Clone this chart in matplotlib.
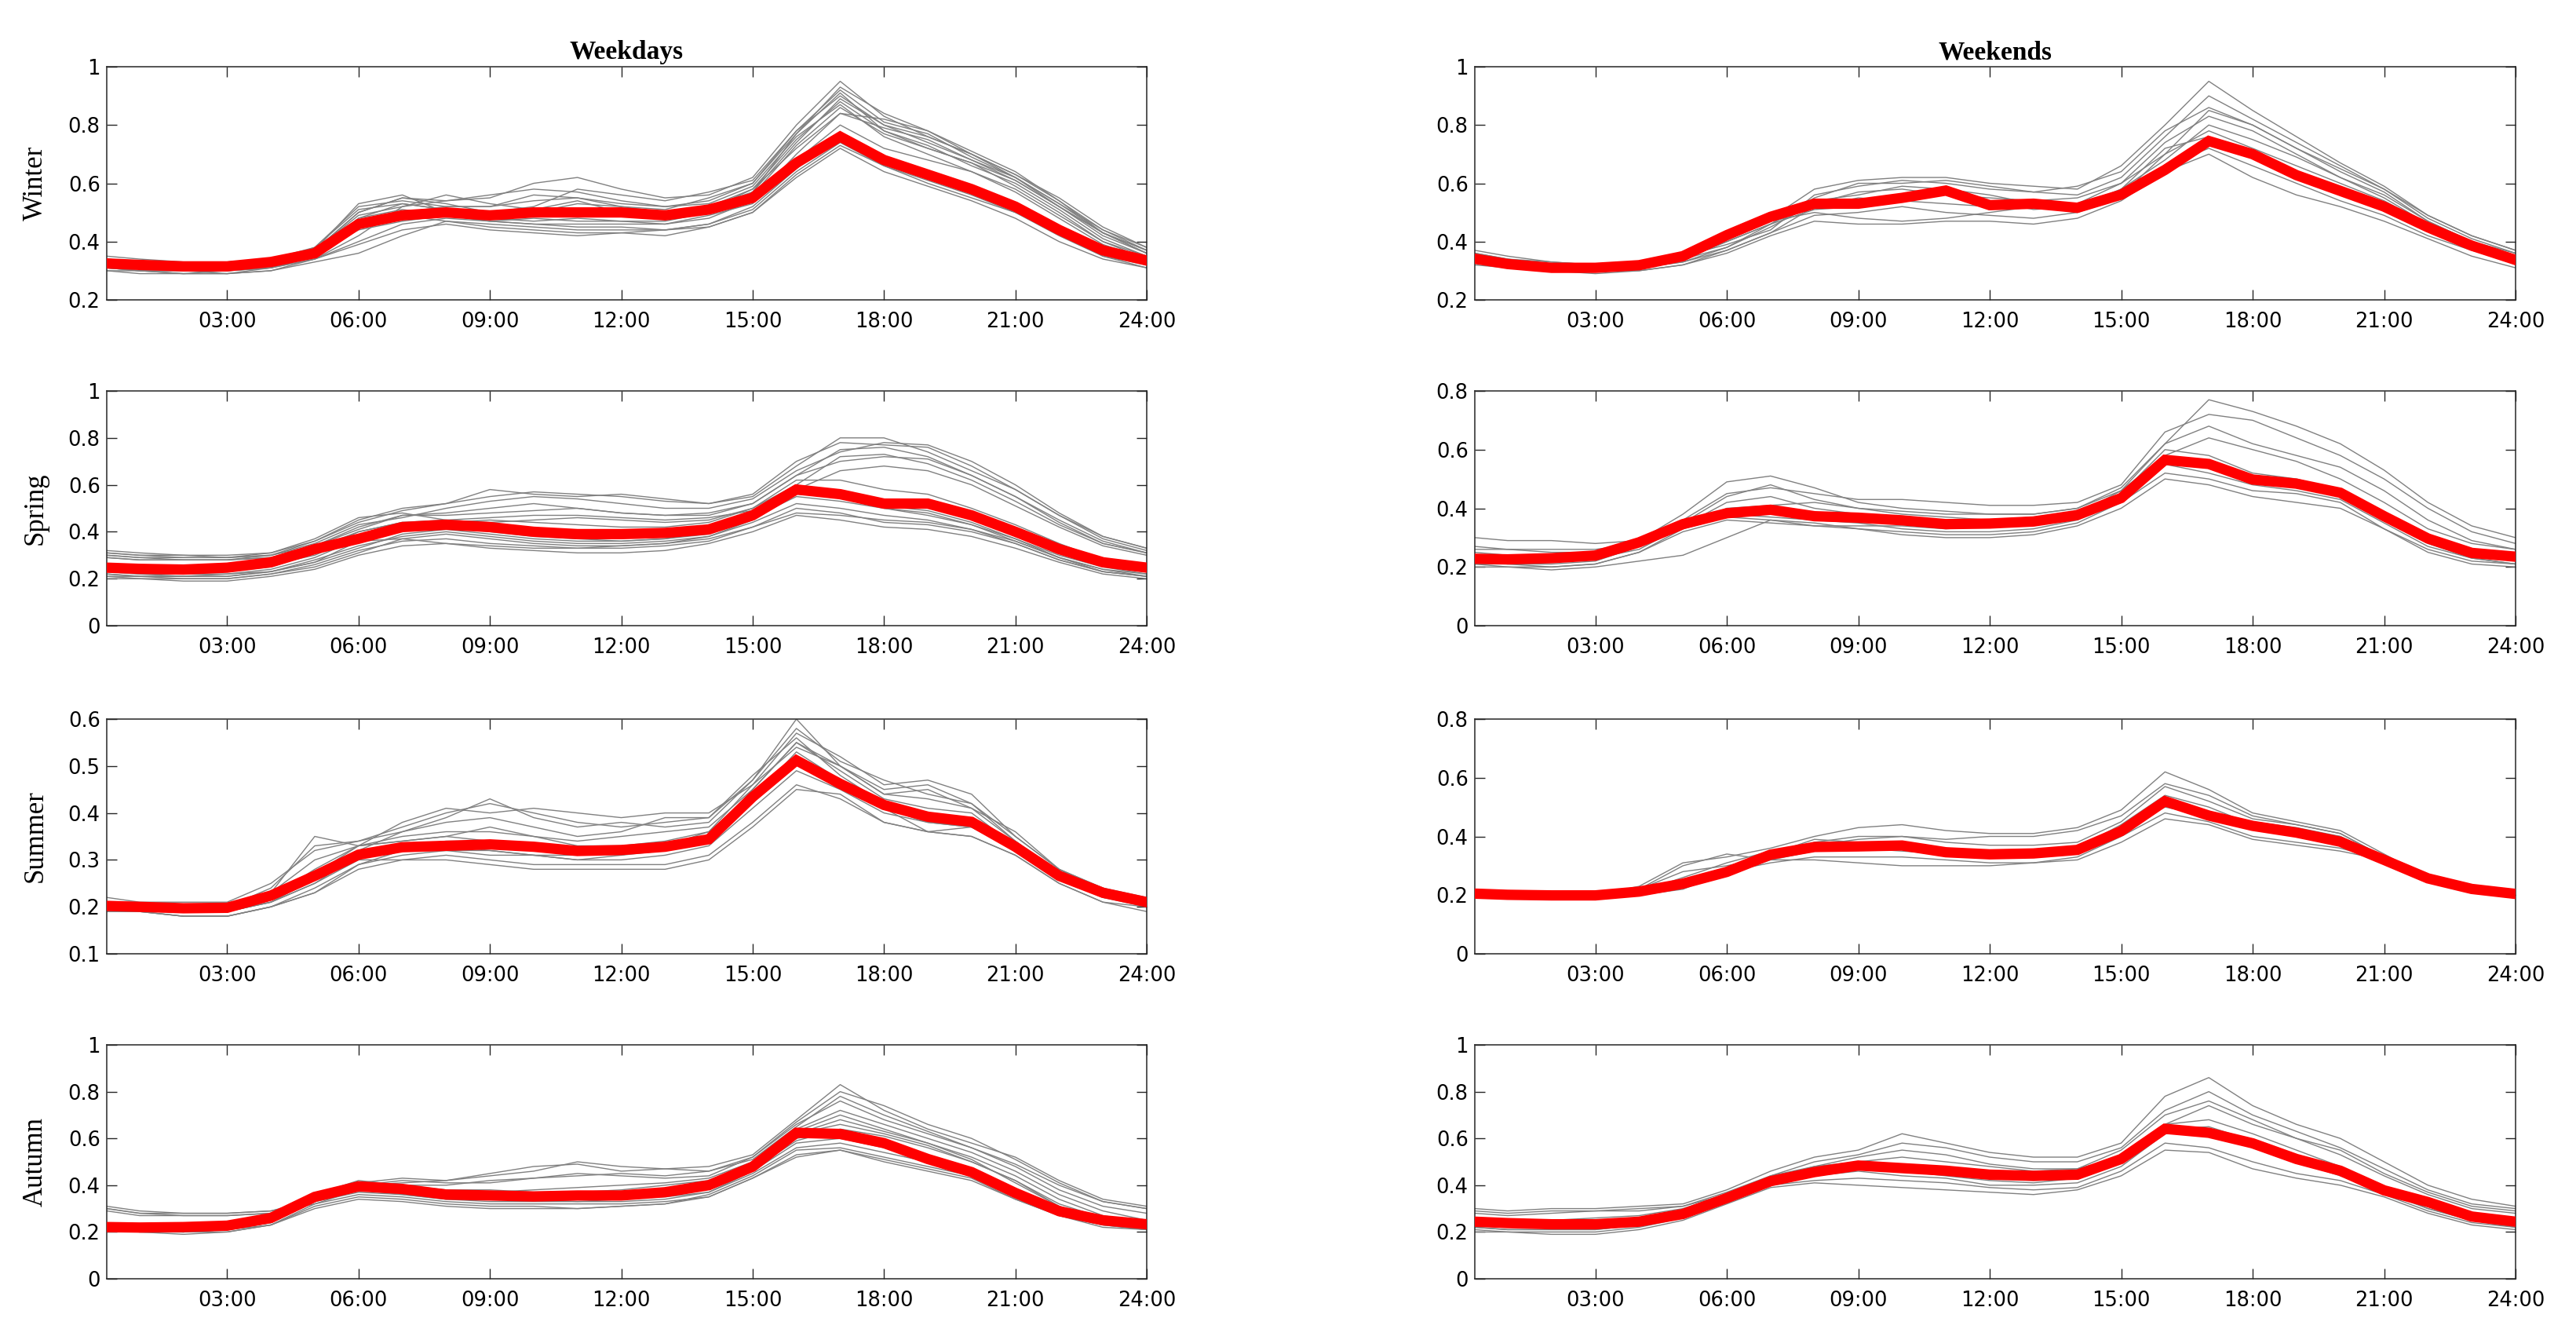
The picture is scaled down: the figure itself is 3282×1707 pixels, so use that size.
import matplotlib
matplotlib.use("Agg")
import matplotlib.pyplot as plt
import numpy as np

# ---------------- data ----------------
hours = [0.25] + list(range(1, 25))
hour_ticks = [3, 6, 9, 12, 15, 18, 21, 24]
hour_labels = ["03:00", "06:00", "09:00", "12:00", "15:00", "18:00", "21:00", "24:00"]
seasons = ["Winter", "Spring", "Summer", "Autumn"]
columns = ["Weekdays", "Weekends"]

# mean profiles (red)
winter_wd_mean = [0.325,0.32,0.315,0.315,0.33,0.36,0.46,0.49,0.50,0.49,0.50,0.50,0.50,0.49,0.51,0.55,0.67,0.76,0.68,0.63,0.58,0.52,0.44,0.37,0.335]
spring_wd_mean = [0.247,0.242,0.239,0.247,0.27,0.326,0.37,0.42,0.43,0.42,0.40,0.39,0.39,0.395,0.41,0.47,0.58,0.56,0.52,0.52,0.47,0.40,0.326,0.27,0.247]
summer_wd_mean = [0.202,0.200,0.197,0.198,0.224,0.266,0.311,0.327,0.330,0.333,0.328,0.319,0.321,0.328,0.344,0.434,0.512,0.462,0.417,0.392,0.381,0.328,0.266,0.230,0.210]
autumn_wd_mean = [0.221,0.219,0.221,0.227,0.26,0.35,0.395,0.384,0.36,0.356,0.352,0.356,0.356,0.37,0.40,0.479,0.624,0.619,0.58,0.512,0.456,0.367,0.289,0.25,0.233]
winter_we_mean = [0.341,0.323,0.31,0.31,0.319,0.35,0.422,0.485,0.53,0.53,0.55,0.575,0.525,0.53,0.516,0.561,0.646,0.745,0.70,0.628,0.574,0.52,0.449,0.386,0.337]
spring_we_mean = [0.228,0.226,0.23,0.239,0.284,0.346,0.383,0.395,0.373,0.368,0.359,0.346,0.348,0.355,0.377,0.435,0.565,0.551,0.498,0.484,0.453,0.373,0.297,0.248,0.235]
summer_we_mean = [0.205,0.201,0.199,0.199,0.212,0.239,0.279,0.338,0.364,0.366,0.369,0.346,0.339,0.342,0.354,0.418,0.52,0.471,0.436,0.413,0.382,0.32,0.257,0.221,0.204]
autumn_we_mean = [0.244,0.238,0.233,0.233,0.244,0.277,0.345,0.417,0.456,0.484,0.473,0.462,0.445,0.44,0.445,0.512,0.641,0.624,0.579,0.512,0.462,0.378,0.328,0.266,0.244]

# individual day profiles (grey)
winter_wd_days = [
    [0.34,0.33,0.32,0.32,0.33,0.37,0.50,0.55,0.54,0.55,0.60,0.62,0.58,0.55,0.56,0.62,0.80,0.95,0.83,0.76,0.70,0.63,0.54,0.44,0.37],
    [0.33,0.32,0.31,0.31,0.33,0.38,0.52,0.54,0.52,0.52,0.54,0.55,0.53,0.52,0.54,0.60,0.78,0.90,0.80,0.74,0.68,0.61,0.52,0.42,0.36],
    [0.32,0.31,0.30,0.31,0.32,0.36,0.48,0.53,0.51,0.50,0.50,0.51,0.50,0.49,0.51,0.58,0.75,0.88,0.78,0.73,0.66,0.60,0.51,0.41,0.35],
    [0.31,0.30,0.30,0.30,0.31,0.35,0.45,0.50,0.50,0.48,0.47,0.48,0.47,0.47,0.50,0.56,0.73,0.86,0.77,0.72,0.67,0.59,0.50,0.40,0.35],
    [0.33,0.32,0.31,0.31,0.33,0.36,0.44,0.47,0.49,0.47,0.46,0.46,0.46,0.46,0.48,0.54,0.70,0.84,0.79,0.75,0.68,0.62,0.53,0.43,0.36],
    [0.30,0.29,0.29,0.29,0.30,0.33,0.36,0.42,0.47,0.46,0.45,0.44,0.44,0.44,0.46,0.52,0.65,0.76,0.68,0.63,0.58,0.51,0.43,0.36,0.32],
    [0.32,0.31,0.30,0.30,0.31,0.34,0.40,0.46,0.48,0.47,0.46,0.45,0.45,0.44,0.46,0.51,0.64,0.74,0.66,0.60,0.55,0.50,0.42,0.35,0.32],
    [0.35,0.34,0.33,0.33,0.34,0.37,0.50,0.55,0.53,0.50,0.52,0.58,0.56,0.54,0.57,0.61,0.78,0.92,0.81,0.77,0.69,0.62,0.53,0.44,0.38],
    [0.31,0.30,0.29,0.29,0.31,0.35,0.48,0.51,0.49,0.47,0.48,0.47,0.47,0.46,0.49,0.53,0.68,0.80,0.72,0.68,0.64,0.58,0.49,0.40,0.34],
    [0.33,0.32,0.32,0.32,0.33,0.37,0.49,0.52,0.54,0.56,0.58,0.57,0.54,0.52,0.53,0.59,0.76,0.87,0.76,0.70,0.64,0.57,0.48,0.39,0.34],
    [0.32,0.31,0.31,0.30,0.32,0.36,0.46,0.49,0.47,0.45,0.44,0.43,0.43,0.44,0.45,0.50,0.62,0.72,0.64,0.59,0.54,0.48,0.40,0.34,0.31],
    [0.34,0.33,0.32,0.33,0.34,0.38,0.51,0.53,0.51,0.49,0.49,0.50,0.49,0.48,0.50,0.57,0.74,0.89,0.80,0.76,0.70,0.63,0.55,0.45,0.38],
    [0.30,0.30,0.29,0.30,0.31,0.34,0.42,0.52,0.56,0.53,0.51,0.54,0.50,0.48,0.52,0.58,0.72,0.84,0.82,0.78,0.71,0.64,0.54,0.43,0.37],
    [0.33,0.33,0.31,0.30,0.32,0.37,0.53,0.56,0.50,0.48,0.50,0.53,0.52,0.50,0.52,0.57,0.77,0.91,0.78,0.72,0.67,0.61,0.52,0.43,0.36],
    [0.31,0.30,0.30,0.29,0.30,0.34,0.39,0.44,0.46,0.44,0.43,0.42,0.43,0.42,0.45,0.50,0.63,0.73,0.66,0.61,0.56,0.50,0.43,0.35,0.31],
    [0.34,0.32,0.31,0.31,0.32,0.36,0.47,0.50,0.52,0.52,0.56,0.55,0.52,0.51,0.55,0.60,0.77,0.93,0.84,0.78,0.70,0.62,0.52,0.43,0.37],
]
spring_wd_days = [
    [0.31,0.30,0.29,0.29,0.30,0.36,0.45,0.50,0.52,0.55,0.57,0.56,0.55,0.53,0.52,0.55,0.68,0.80,0.80,0.74,0.66,0.58,0.47,0.38,0.33],
    [0.30,0.29,0.28,0.28,0.30,0.34,0.42,0.47,0.48,0.50,0.52,0.50,0.48,0.47,0.48,0.52,0.64,0.75,0.76,0.72,0.64,0.55,0.45,0.36,0.31],
    [0.32,0.31,0.30,0.30,0.31,0.37,0.46,0.48,0.45,0.44,0.45,0.46,0.45,0.44,0.45,0.50,0.60,0.72,0.73,0.69,0.62,0.53,0.43,0.35,0.31],
    [0.29,0.28,0.28,0.28,0.29,0.33,0.40,0.44,0.45,0.46,0.47,0.47,0.46,0.45,0.46,0.49,0.58,0.66,0.68,0.66,0.60,0.51,0.42,0.34,0.30],
    [0.22,0.21,0.21,0.21,0.23,0.28,0.34,0.38,0.40,0.38,0.36,0.35,0.35,0.36,0.38,0.44,0.52,0.50,0.47,0.45,0.41,0.36,0.29,0.24,0.21],
    [0.21,0.20,0.20,0.20,0.22,0.26,0.32,0.36,0.37,0.35,0.34,0.33,0.33,0.34,0.36,0.42,0.50,0.48,0.44,0.43,0.40,0.35,0.28,0.23,0.21],
    [0.23,0.22,0.22,0.22,0.24,0.29,0.37,0.41,0.42,0.40,0.38,0.37,0.36,0.37,0.39,0.46,0.55,0.53,0.50,0.48,0.43,0.37,0.30,0.25,0.22],
    [0.20,0.20,0.19,0.19,0.21,0.24,0.30,0.34,0.35,0.33,0.32,0.31,0.31,0.32,0.35,0.40,0.47,0.45,0.42,0.41,0.38,0.33,0.27,0.22,0.20],
    [0.24,0.23,0.23,0.23,0.25,0.31,0.40,0.44,0.43,0.42,0.41,0.40,0.39,0.40,0.42,0.47,0.57,0.55,0.53,0.51,0.46,0.39,0.31,0.26,0.23],
    [0.30,0.29,0.29,0.29,0.30,0.35,0.43,0.46,0.50,0.53,0.55,0.54,0.52,0.50,0.50,0.54,0.66,0.74,0.78,0.77,0.70,0.60,0.48,0.38,0.33],
    [0.22,0.21,0.21,0.21,0.23,0.27,0.33,0.39,0.41,0.39,0.37,0.36,0.36,0.37,0.40,0.45,0.58,0.56,0.50,0.47,0.43,0.36,0.29,0.24,0.22],
    [0.25,0.24,0.24,0.24,0.26,0.30,0.38,0.42,0.44,0.45,0.44,0.43,0.42,0.42,0.44,0.50,0.62,0.62,0.58,0.56,0.50,0.43,0.35,0.28,0.25],
    [0.31,0.30,0.30,0.29,0.31,0.36,0.44,0.49,0.52,0.58,0.56,0.55,0.56,0.54,0.52,0.56,0.70,0.78,0.77,0.76,0.68,0.58,0.47,0.37,0.32],
    [0.23,0.22,0.21,0.22,0.23,0.27,0.36,0.37,0.35,0.34,0.33,0.33,0.34,0.35,0.37,0.42,0.48,0.47,0.45,0.44,0.41,0.35,0.28,0.23,0.21],
    [0.21,0.21,0.20,0.20,0.22,0.25,0.31,0.37,0.39,0.37,0.35,0.34,0.34,0.35,0.38,0.45,0.56,0.55,0.51,0.49,0.44,0.37,0.29,0.23,0.21],
    [0.29,0.28,0.28,0.28,0.29,0.34,0.41,0.47,0.47,0.48,0.49,0.50,0.48,0.47,0.47,0.52,0.64,0.70,0.72,0.71,0.64,0.55,0.44,0.35,0.31],
]
summer_wd_days = [
    [0.21,0.20,0.20,0.20,0.24,0.33,0.34,0.37,0.40,0.42,0.40,0.38,0.37,0.38,0.39,0.47,0.60,0.50,0.45,0.46,0.42,0.34,0.27,0.23,0.22],
    [0.20,0.19,0.19,0.19,0.22,0.28,0.33,0.38,0.41,0.40,0.41,0.40,0.39,0.40,0.40,0.46,0.57,0.52,0.46,0.47,0.44,0.35,0.28,0.24,0.21],
    [0.20,0.20,0.19,0.19,0.23,0.30,0.33,0.35,0.36,0.36,0.35,0.34,0.35,0.36,0.37,0.45,0.55,0.49,0.43,0.41,0.40,0.33,0.27,0.23,0.21],
    [0.19,0.19,0.18,0.18,0.20,0.24,0.29,0.32,0.32,0.31,0.31,0.30,0.30,0.31,0.33,0.41,0.49,0.45,0.40,0.38,0.37,0.32,0.26,0.22,0.20],
    [0.21,0.20,0.20,0.20,0.22,0.26,0.31,0.33,0.33,0.32,0.31,0.30,0.31,0.32,0.34,0.43,0.53,0.47,0.42,0.39,0.39,0.33,0.26,0.23,0.21],
    [0.20,0.20,0.19,0.19,0.21,0.25,0.30,0.30,0.31,0.30,0.29,0.29,0.29,0.29,0.31,0.38,0.46,0.43,0.38,0.36,0.35,0.31,0.25,0.21,0.20],
    [0.22,0.21,0.21,0.21,0.25,0.32,0.34,0.36,0.38,0.39,0.37,0.35,0.36,0.39,0.39,0.48,0.56,0.48,0.42,0.40,0.38,0.32,0.26,0.22,0.21],
    [0.19,0.19,0.18,0.18,0.20,0.23,0.29,0.31,0.32,0.32,0.31,0.31,0.32,0.32,0.35,0.44,0.51,0.47,0.41,0.36,0.37,0.32,0.27,0.23,0.20],
    [0.21,0.20,0.20,0.20,0.22,0.27,0.33,0.34,0.35,0.37,0.35,0.33,0.33,0.34,0.36,0.46,0.54,0.50,0.44,0.43,0.41,0.36,0.28,0.24,0.22],
    [0.20,0.19,0.19,0.19,0.21,0.25,0.31,0.33,0.34,0.34,0.33,0.32,0.31,0.33,0.36,0.44,0.52,0.46,0.41,0.38,0.37,0.33,0.26,0.22,0.21],
    [0.21,0.20,0.20,0.19,0.23,0.35,0.33,0.34,0.35,0.34,0.33,0.32,0.32,0.33,0.35,0.45,0.55,0.50,0.44,0.45,0.41,0.34,0.27,0.23,0.21],
    [0.20,0.20,0.19,0.19,0.21,0.26,0.32,0.36,0.39,0.43,0.39,0.37,0.38,0.37,0.38,0.47,0.58,0.51,0.47,0.44,0.42,0.35,0.28,0.23,0.21],
    [0.19,0.19,0.18,0.18,0.20,0.23,0.28,0.30,0.30,0.29,0.28,0.28,0.28,0.28,0.30,0.37,0.45,0.44,0.38,0.36,0.35,0.31,0.25,0.21,0.19],
]
autumn_wd_days = [
    [0.31,0.29,0.28,0.28,0.29,0.34,0.41,0.43,0.42,0.44,0.46,0.50,0.48,0.47,0.48,0.53,0.68,0.83,0.72,0.64,0.58,0.52,0.42,0.34,0.31],
    [0.30,0.28,0.27,0.27,0.28,0.33,0.40,0.42,0.41,0.41,0.43,0.44,0.45,0.44,0.46,0.51,0.65,0.78,0.70,0.63,0.56,0.49,0.40,0.33,0.30],
    [0.22,0.21,0.21,0.22,0.25,0.35,0.40,0.38,0.37,0.37,0.38,0.39,0.40,0.41,0.43,0.50,0.64,0.72,0.66,0.60,0.54,0.46,0.36,0.29,0.25],
    [0.21,0.20,0.20,0.21,0.24,0.33,0.37,0.36,0.34,0.33,0.33,0.33,0.33,0.34,0.37,0.46,0.58,0.60,0.56,0.52,0.47,0.38,0.29,0.24,0.22],
    [0.20,0.20,0.19,0.20,0.23,0.31,0.35,0.34,0.32,0.31,0.31,0.30,0.31,0.32,0.36,0.44,0.55,0.56,0.52,0.48,0.44,0.35,0.27,0.23,0.21],
    [0.23,0.22,0.22,0.23,0.26,0.36,0.42,0.40,0.38,0.38,0.37,0.37,0.38,0.40,0.42,0.49,0.62,0.66,0.62,0.57,0.50,0.42,0.32,0.26,0.23],
    [0.21,0.21,0.20,0.21,0.25,0.34,0.38,0.37,0.35,0.35,0.34,0.34,0.35,0.36,0.39,0.47,0.60,0.63,0.58,0.53,0.47,0.38,0.30,0.25,0.22],
    [0.29,0.27,0.27,0.27,0.28,0.32,0.38,0.40,0.40,0.42,0.43,0.45,0.44,0.43,0.44,0.52,0.66,0.76,0.68,0.62,0.56,0.48,0.38,0.31,0.28],
    [0.22,0.21,0.21,0.21,0.24,0.33,0.38,0.36,0.34,0.34,0.34,0.33,0.34,0.35,0.37,0.45,0.56,0.58,0.54,0.50,0.45,0.36,0.28,0.24,0.22],
    [0.23,0.22,0.22,0.23,0.26,0.35,0.41,0.40,0.37,0.36,0.35,0.36,0.36,0.38,0.40,0.48,0.63,0.70,0.64,0.58,0.52,0.44,0.34,0.27,0.24],
    [0.21,0.20,0.20,0.20,0.23,0.32,0.36,0.35,0.33,0.32,0.32,0.32,0.32,0.33,0.35,0.43,0.53,0.55,0.51,0.47,0.43,0.34,0.27,0.23,0.21],
    [0.22,0.21,0.21,0.22,0.25,0.34,0.39,0.38,0.36,0.36,0.35,0.36,0.37,0.38,0.41,0.49,0.62,0.68,0.63,0.58,0.51,0.41,0.31,0.25,0.23],
    [0.30,0.28,0.28,0.28,0.29,0.33,0.40,0.41,0.42,0.45,0.48,0.49,0.46,0.47,0.46,0.52,0.67,0.80,0.74,0.66,0.60,0.51,0.41,0.33,0.30],
    [0.21,0.20,0.20,0.21,0.24,0.34,0.40,0.38,0.36,0.37,0.36,0.35,0.36,0.37,0.40,0.47,0.59,0.64,0.61,0.56,0.50,0.42,0.31,0.25,0.22],
    [0.22,0.21,0.20,0.21,0.23,0.30,0.34,0.33,0.31,0.30,0.30,0.30,0.31,0.32,0.35,0.43,0.52,0.55,0.50,0.46,0.42,0.34,0.27,0.22,0.21],
]
winter_we_days = [
    [0.36,0.34,0.33,0.32,0.33,0.36,0.42,0.48,0.58,0.61,0.62,0.62,0.60,0.59,0.58,0.66,0.80,0.95,0.85,0.76,0.67,0.59,0.49,0.42,0.37],
    [0.34,0.33,0.31,0.31,0.32,0.34,0.40,0.46,0.55,0.60,0.60,0.61,0.59,0.57,0.56,0.62,0.76,0.90,0.82,0.74,0.66,0.58,0.48,0.41,0.36],
    [0.33,0.32,0.30,0.30,0.31,0.33,0.38,0.45,0.53,0.57,0.58,0.56,0.55,0.54,0.55,0.60,0.70,0.85,0.80,0.72,0.64,0.57,0.47,0.40,0.35],
    [0.35,0.33,0.32,0.31,0.32,0.35,0.41,0.47,0.50,0.48,0.47,0.48,0.50,0.52,0.50,0.55,0.66,0.72,0.66,0.60,0.54,0.49,0.42,0.37,0.33],
    [0.32,0.31,0.30,0.29,0.30,0.32,0.36,0.42,0.47,0.46,0.46,0.47,0.47,0.46,0.48,0.54,0.64,0.70,0.62,0.56,0.52,0.47,0.41,0.35,0.31],
    [0.37,0.35,0.33,0.32,0.33,0.35,0.39,0.44,0.56,0.59,0.61,0.60,0.58,0.57,0.59,0.64,0.78,0.86,0.80,0.72,0.65,0.58,0.49,0.42,0.37],
    [0.33,0.31,0.30,0.30,0.30,0.32,0.37,0.43,0.52,0.55,0.54,0.53,0.52,0.52,0.51,0.58,0.68,0.80,0.75,0.69,0.62,0.55,0.46,0.39,0.34],
    [0.34,0.32,0.31,0.31,0.31,0.34,0.40,0.46,0.51,0.52,0.55,0.57,0.54,0.51,0.52,0.58,0.72,0.76,0.70,0.64,0.58,0.52,0.45,0.39,0.34],
    [0.33,0.32,0.31,0.30,0.31,0.33,0.37,0.43,0.49,0.50,0.52,0.50,0.49,0.48,0.50,0.56,0.70,0.78,0.72,0.66,0.60,0.54,0.46,0.39,0.34],
    [0.36,0.34,0.32,0.31,0.32,0.34,0.38,0.46,0.54,0.56,0.59,0.58,0.56,0.53,0.53,0.60,0.74,0.83,0.78,0.70,0.62,0.56,0.47,0.40,0.36],
]
spring_we_days = [
    [0.30,0.29,0.29,0.28,0.29,0.38,0.49,0.51,0.47,0.42,0.40,0.39,0.38,0.38,0.40,0.47,0.62,0.77,0.73,0.68,0.62,0.53,0.42,0.34,0.30],
    [0.27,0.26,0.26,0.26,0.28,0.36,0.45,0.47,0.45,0.43,0.43,0.42,0.41,0.41,0.42,0.48,0.66,0.72,0.70,0.64,0.58,0.50,0.40,0.32,0.28],
    [0.21,0.20,0.20,0.21,0.25,0.32,0.36,0.35,0.34,0.33,0.32,0.31,0.31,0.32,0.35,0.42,0.52,0.50,0.46,0.45,0.42,0.33,0.26,0.22,0.21],
    [0.22,0.21,0.21,0.22,0.27,0.35,0.38,0.37,0.36,0.35,0.33,0.32,0.32,0.33,0.36,0.44,0.55,0.52,0.48,0.46,0.43,0.35,0.27,0.23,0.21],
    [0.26,0.26,0.25,0.25,0.27,0.34,0.40,0.41,0.42,0.40,0.39,0.38,0.38,0.38,0.40,0.46,0.58,0.64,0.60,0.56,0.50,0.42,0.33,0.28,0.26],
    [0.20,0.20,0.19,0.20,0.22,0.24,0.30,0.36,0.35,0.33,0.31,0.30,0.30,0.31,0.34,0.40,0.50,0.48,0.44,0.42,0.40,0.33,0.25,0.21,0.20],
    [0.21,0.21,0.20,0.21,0.25,0.33,0.37,0.36,0.34,0.34,0.34,0.33,0.34,0.35,0.37,0.44,0.56,0.54,0.49,0.47,0.44,0.36,0.28,0.23,0.21],
    [0.24,0.23,0.23,0.23,0.26,0.34,0.42,0.44,0.40,0.38,0.37,0.36,0.35,0.36,0.39,0.45,0.60,0.58,0.52,0.50,0.46,0.38,0.30,0.25,0.23],
    [0.25,0.24,0.24,0.24,0.27,0.35,0.44,0.48,0.43,0.40,0.38,0.37,0.36,0.37,0.38,0.46,0.62,0.68,0.62,0.58,0.54,0.46,0.36,0.29,0.26],
]
summer_we_days = [
    [0.21,0.20,0.20,0.20,0.23,0.31,0.33,0.36,0.40,0.43,0.44,0.42,0.41,0.41,0.43,0.49,0.62,0.56,0.48,0.45,0.42,0.34,0.26,0.22,0.20],
    [0.20,0.20,0.19,0.19,0.22,0.28,0.30,0.33,0.38,0.40,0.40,0.39,0.40,0.40,0.42,0.47,0.58,0.54,0.47,0.44,0.41,0.33,0.26,0.22,0.20],
    [0.20,0.19,0.19,0.19,0.21,0.24,0.28,0.31,0.33,0.33,0.33,0.32,0.31,0.31,0.33,0.40,0.48,0.45,0.40,0.38,0.36,0.32,0.25,0.22,0.20],
    [0.21,0.20,0.20,0.20,0.22,0.30,0.34,0.32,0.32,0.31,0.30,0.30,0.30,0.31,0.32,0.38,0.46,0.44,0.39,0.37,0.35,0.32,0.26,0.22,0.20],
    [0.20,0.20,0.19,0.19,0.21,0.25,0.29,0.33,0.36,0.37,0.38,0.36,0.34,0.35,0.36,0.44,0.54,0.50,0.44,0.42,0.40,0.33,0.26,0.22,0.20],
    [0.21,0.20,0.20,0.20,0.21,0.23,0.27,0.32,0.35,0.36,0.35,0.34,0.33,0.33,0.35,0.42,0.52,0.48,0.43,0.40,0.38,0.33,0.25,0.22,0.20],
    [0.20,0.19,0.19,0.19,0.20,0.22,0.28,0.34,0.39,0.38,0.37,0.36,0.35,0.34,0.35,0.43,0.50,0.47,0.45,0.43,0.40,0.32,0.25,0.21,0.20],
    [0.20,0.20,0.19,0.20,0.21,0.26,0.31,0.35,0.37,0.39,0.40,0.38,0.37,0.37,0.38,0.45,0.57,0.52,0.46,0.44,0.41,0.33,0.25,0.22,0.20],
]
autumn_we_days = [
    [0.30,0.29,0.30,0.30,0.31,0.32,0.38,0.46,0.52,0.55,0.62,0.58,0.54,0.52,0.52,0.58,0.78,0.86,0.74,0.66,0.60,0.50,0.40,0.34,0.31],
    [0.28,0.27,0.28,0.29,0.29,0.31,0.36,0.44,0.50,0.53,0.58,0.56,0.52,0.50,0.50,0.56,0.72,0.80,0.70,0.63,0.56,0.47,0.38,0.32,0.30],
    [0.22,0.21,0.21,0.21,0.23,0.27,0.34,0.42,0.46,0.48,0.47,0.45,0.43,0.42,0.43,0.52,0.66,0.68,0.62,0.55,0.48,0.39,0.31,0.25,0.23],
    [0.21,0.20,0.20,0.20,0.22,0.26,0.33,0.40,0.42,0.43,0.42,0.41,0.39,0.38,0.39,0.46,0.58,0.56,0.50,0.45,0.42,0.36,0.29,0.24,0.22],
    [0.23,0.22,0.22,0.22,0.24,0.28,0.35,0.41,0.44,0.46,0.44,0.43,0.40,0.40,0.41,0.48,0.62,0.62,0.56,0.50,0.44,0.37,0.30,0.25,0.23],
    [0.20,0.20,0.19,0.19,0.21,0.25,0.32,0.39,0.41,0.40,0.39,0.38,0.37,0.36,0.38,0.44,0.55,0.54,0.47,0.43,0.40,0.35,0.28,0.23,0.21],
    [0.26,0.25,0.25,0.26,0.27,0.30,0.36,0.43,0.48,0.52,0.55,0.53,0.49,0.47,0.47,0.55,0.70,0.76,0.68,0.60,0.53,0.44,0.36,0.30,0.28],
    [0.22,0.21,0.21,0.21,0.23,0.27,0.34,0.41,0.45,0.47,0.46,0.44,0.42,0.41,0.43,0.50,0.64,0.65,0.59,0.52,0.46,0.38,0.30,0.25,0.22],
    [0.29,0.28,0.29,0.29,0.30,0.31,0.37,0.44,0.48,0.50,0.52,0.50,0.48,0.46,0.47,0.52,0.66,0.74,0.66,0.60,0.55,0.45,0.37,0.31,0.29],
]

weekday_means = [winter_wd_mean, spring_wd_mean, summer_wd_mean, autumn_wd_mean]
weekend_means = [winter_we_mean, spring_we_mean, summer_we_mean, autumn_we_mean]
weekday_days = [winter_wd_days, spring_wd_days, summer_wd_days, autumn_wd_days]
weekend_days = [winter_we_days, spring_we_days, summer_we_days, autumn_we_days]

weekday_ylims = [(0.2, 1.0), (0.0, 1.0), (0.1, 0.6), (0.0, 1.0)]
weekend_ylims = [(0.2, 1.0), (0.0, 0.8), (0.0, 0.8), (0.0, 1.0)]
weekday_ysteps = [0.2, 0.2, 0.1, 0.2]
weekend_ysteps = [0.2, 0.2, 0.2, 0.2]

# ---------------- layout ----------------
W, H = 3282, 1707
fig = plt.figure(figsize=(W / 100, H / 100), dpi=100)

col_x = [(136, 1461), (1879, 3205)]
row_y = [(85, 382), (498, 797), (916, 1215), (1331, 1629)]

tick_font = dict(family="DejaVu Sans", size=18.5)
spine_color = "#262626"

for c in range(2):
    means = weekday_means if c == 0 else weekend_means
    days = weekday_days if c == 0 else weekend_days
    ylims = weekday_ylims if c == 0 else weekend_ylims
    ysteps = weekday_ysteps if c == 0 else weekend_ysteps
    for r in range(4):
        x0, x1 = col_x[c]
        yt, yb = row_y[r]
        ax = fig.add_axes([x0 / W, 1 - yb / H, (x1 - x0) / W, (yb - yt) / H])
        for d in days[r]:
            ax.plot(hours, d, color="#808080", lw=1.0, zorder=2)
        ax.plot(hours, means[r], color="#ff0000", lw=9.5, zorder=3,
                solid_joinstyle="miter")
        ax.set_xlim(0.25, 24)
        lo, hi = ylims[r]
        ax.set_ylim(lo, hi)
        yt_vals = np.round(np.arange(lo, hi + 1e-9, ysteps[r]), 2)
        ax.set_yticks(yt_vals)
        ax.set_yticklabels(["%g" % v for v in yt_vals], **tick_font)
        ax.set_xticks(hour_ticks)
        ax.set_xticklabels(hour_labels, **tick_font)
        ax.tick_params(axis="both", direction="in", length=9.5, width=1.0,
                       color=spine_color, top=True, right=True)
        ax.tick_params(axis="x", pad=11)
        ax.tick_params(axis="y", pad=6)
        for s in ax.spines.values():
            s.set_color(spine_color)
            s.set_linewidth(1.1)
        if r == 0:
            ax.set_title(columns[c], fontsize=24, fontweight="bold",
                         family="Liberation Serif", pad=7)
        if c == 0:
            ax.set_ylabel(seasons[r], fontsize=25, family="Liberation Serif")
            ax.yaxis.set_label_coords((62 - x0) / (x1 - x0), 0.5)

fig.savefig("out.png", dpi=100)
